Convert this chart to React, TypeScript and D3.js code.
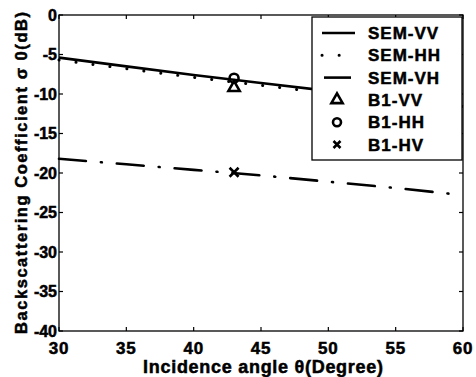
import React from "react";
import * as d3 from "d3";

const angles = [30, 35, 40, 45, 50, 55, 60];
const semVV = [-5.4, -6.5, -7.6, -8.6, -9.6, -10.6, -11.6];
const semHH = [-5.7, -6.8, -7.9, -8.9, -9.9, -10.9, -11.9];
const semVH = [-18.2, -18.9, -19.6, -20.3, -21.1, -21.9, -22.8];
const b1Angle = 43;
const b1VV = -9.2;
const b1HH = -8.0;
const b1HV = -19.9;
const xTicks = [30, 35, 40, 45, 50, 55, 60];
const yTicks = [0, -5, -10, -15, -20, -25, -30, -35, -40];
const legendLabels = ["SEM-VV", "SEM-HH", "SEM-VH", "B1-VV", "B1-HH", "B1-HV"];

const W = 476, H = 377;
const L = 59, T = 15, R = 463, B = 331;
const FONT = "'Liberation Sans', Arial, Helvetica, sans-serif";

export default function App() {
  const x = d3.scaleLinear().domain([30, 60]).range([L, R]);
  const y = d3.scaleLinear().domain([-40, 0]).range([B, T]);
  const line = d3.line<number>().x((_, i) => x(angles[i])).y((d) => y(d));

  const tri = d3.symbol().type(d3.symbolTriangle).size(55)();
  const legX = 312, legY = 17, legW = 150, legH = 143;
  const rowY = (i: number) => 33 + i * 22.3;
  const sx1 = 322, sx2 = 355, mx = 337;

  const cross = (cx: number, cy: number, r: number) =>
    `M${cx - r},${cy - r}L${cx + r},${cy + r}M${cx - r},${cy + r}L${cx + r},${cy - r}`;

  const txt = { fontFamily: FONT, fontWeight: "bold" as const, fill: "#000", stroke: "#000", strokeWidth: 0.5 };

  return (
    <svg width={W} height={H} style={{ position: "absolute", left: 0, top: 0, background: "#fff" }}>
      <rect x={0} y={0} width={W} height={H} fill="#fff" />
      {/* data lines */}
      <path d={line(semVV)!} fill="none" stroke="#000" strokeWidth={2.6} />
      <path d={line(semHH)!} fill="none" stroke="#000" strokeWidth={3} strokeDasharray="0.1 17" strokeLinecap="round" />
      <path d={line(semVH)!} fill="none" stroke="#000" strokeWidth={2.6} strokeDasharray="27 15 1 15" strokeLinecap="round" />
      {/* B1 markers */}
      <path d={tri} transform={`translate(${x(b1Angle)},${y(b1VV)})`} fill="none" stroke="#000" strokeWidth={2.6} />
      <circle cx={x(b1Angle)} cy={y(b1HH)} r={4.5} fill="none" stroke="#000" strokeWidth={2.6} />
      <path d={cross(x(b1Angle), y(b1HV), 4.5)} fill="none" stroke="#000" strokeWidth={2.6} />
      {/* frame */}
      <rect x={L} y={T} width={R - L} height={B - T} fill="none" stroke="#000" strokeWidth={1.3} />
      {xTicks.map((t) => (
        <g key={"x" + t}>
          <line x1={x(t)} x2={x(t)} y1={B} y2={B - 4} stroke="#000" strokeWidth={1.2} />
          <line x1={x(t)} x2={x(t)} y1={T} y2={T + 4} stroke="#000" strokeWidth={1.2} />
          <text x={x(t)} y={354} textAnchor="middle" fontSize={17} letterSpacing={0.8} {...txt}>
            {t}
          </text>
        </g>
      ))}
      {yTicks.map((t) => (
        <g key={"y" + t}>
          <line x1={L} x2={L + 4} y1={y(t)} y2={y(t)} stroke="#000" strokeWidth={1.2} />
          <line x1={R} x2={R - 4} y1={y(t)} y2={y(t)} stroke="#000" strokeWidth={1.2} />
          <text x={L - 2} y={y(t) + 5.5} textAnchor="end" fontSize={16} {...txt}>
            {t}
          </text>
        </g>
      ))}
      {/* legend */}
      <rect x={legX} y={legY} width={legW} height={legH} fill="#fff" stroke="#000" strokeWidth={1.3} />
      <line x1={sx1} x2={sx2} y1={rowY(0)} y2={rowY(0)} stroke="#000" strokeWidth={2.6} />
      <line x1={sx1} x2={sx2} y1={rowY(1)} y2={rowY(1)} stroke="#000" strokeWidth={3} strokeDasharray="0.1 17" strokeLinecap="round" />
      <line x1={sx1 + 2} x2={sx2} y1={rowY(2)} y2={rowY(2)} stroke="#000" strokeWidth={2.6} strokeDasharray="27 15 1 15" />
      <path d={tri} transform={`translate(${mx},${rowY(3)})`} fill="none" stroke="#000" strokeWidth={2.6} />
      <circle cx={mx} cy={rowY(4)} r={4} fill="none" stroke="#000" strokeWidth={2.6} />
      <path d={cross(mx, rowY(5), 3.5)} fill="none" stroke="#000" strokeWidth={2.6} />
      {legendLabels.map((s, i) => (
        <text key={s} x={368} y={rowY(i) + 6} fontSize={17} letterSpacing={1} {...txt}>
          {s}
        </text>
      ))}
      {/* axis labels */}
      <text x={263} y={373} textAnchor="middle" fontSize={18} textLength={240} lengthAdjust="spacing" {...txt}>
        Incidence angle θ(Degree)
      </text>
      <text transform={`translate(27,173) rotate(-90)`} textAnchor="middle" fontSize={16.5} textLength={322} lengthAdjust="spacing" {...txt}>
        Backscattering Coefficient σ 0(dB)
      </text>
    </svg>
  );
}
